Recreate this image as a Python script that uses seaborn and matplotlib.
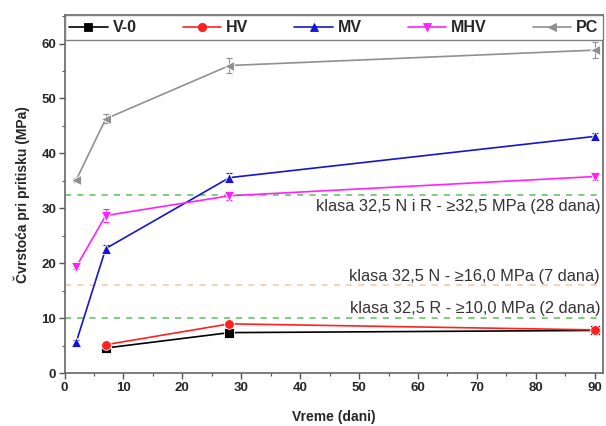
import matplotlib
matplotlib.use("Agg")
import matplotlib.pyplot as plt
import seaborn as sns
import pandas as pd
import numpy as np
from matplotlib.ticker import MultipleLocator
from matplotlib.lines import Line2D

sns.set_theme(style="ticks")
plt.rcParams['font.family'] = ['Liberation Sans', 'DejaVu Sans']

series = ["V-0", "HV", "MV", "MHV", "PC"]
days_v0 = [7, 28, 90]
vals_v0 = [4.6, 7.4, 7.8]
err_v0 = [0.3, 0.4, 0.4]
days_hv = [7, 28, 90]
vals_hv = [5.2, 9.0, 7.9]
err_hv = [0.4, 0.6, 0.5]
days_mv = [2, 7, 28, 90]
vals_mv = [5.7, 22.7, 35.6, 43.1]
err_mv = [0.3, 0.6, 0.8, 0.6]
days_mhv = [2, 7, 28, 90]
vals_mhv = [19.4, 28.7, 32.3, 35.8]
err_mhv = [0.5, 1.2, 0.8, 0.7]
days_pc = [2, 7, 28, 90]
vals_pc = [35.2, 46.3, 56.0, 58.8]
err_pc = [0.4, 0.8, 1.3, 1.5]

colors = ["#000000", "#ff2020", "#1515d0", "#ff20ff", "#909090"]
markers = ["s", "o", "^", "v", "<"]

limits = [32.5, 16.0, 10.0]
limit_colors = ["#5cbf5c", "#f7c6a0", "#5cbf5c"]
limit_labels = ["klasa 32,5 N i R - \u226532,5 MPa (28 dana)",
                "klasa 32,5 N - \u226516,0 MPa (7 dana)",
                "klasa 32,5 R - \u226510,0 MPa (2 dana)"]
label_y = [30.3, 17.6, 11.8]

days = [days_v0, days_hv, days_mv, days_mhv, days_pc]
vals = [vals_v0, vals_hv, vals_mv, vals_mhv, vals_pc]
errs = [err_v0, err_hv, err_mv, err_mhv, err_pc]

df = pd.concat([pd.DataFrame({"Vreme": d, "Cvrstoca": v, "Uzorak": s, "err": e})
                for s, d, v, e in zip(series, days, vals, errs)], ignore_index=True)

fig = plt.figure(figsize=(6.06, 4.26), dpi=100)
ax = fig.add_axes([64.5/606, 1 - 373.3/426, (603 - 64.5)/606, (373.3 - 15.5)/426])

for y, c in zip(limits, limit_colors):
    ax.axhline(y, color=c, linestyle=(0, (4, 4)), linewidth=1.1, zorder=1)

sns.lineplot(data=df, x="Vreme", y="Cvrstoca", hue="Uzorak", style="Uzorak",
             hue_order=series, style_order=series,
             palette=dict(zip(series, colors)), markers=dict(zip(series, markers)),
             dashes=False, markersize=7, linewidth=1.2, markeredgewidth=0.6,
             ax=ax, zorder=3, legend=False)

for s, c in zip(series, colors):
    sub = df[df["Uzorak"] == s]
    ax.errorbar(sub["Vreme"], sub["Cvrstoca"], yerr=sub["err"], fmt="none",
                ecolor=c, elinewidth=0.8, capsize=2.5, capthick=0.8, zorder=2)

for txt, yy in zip(limit_labels, label_y):
    ax.text(90.9, yy, txt, ha="right", va="center", fontsize=11.8, color="#333333")

handles = [Line2D([], [], color=c, marker=m, markersize=6, linewidth=1.2, markeredgewidth=0.6)
           for c, m in zip(colors, markers)]
leg = ax.legend(handles, series, loc="upper left", bbox_to_anchor=(0.0, 0.0, 1.0, 1.0), ncol=5,
                frameon=True, fancybox=False, edgecolor="#808080", framealpha=1,
                prop={"weight": "bold", "size": 11.5}, handlelength=2.4, columnspacing=2.0,
                handletextpad=0.3, borderpad=0.3, borderaxespad=0.0, mode="expand")
leg.get_frame().set_linewidth(1.0)

ax.set_xlim(0, 91.4)
ax.set_ylim(0, 65.1)
ax.xaxis.set_major_locator(MultipleLocator(10))
ax.xaxis.set_minor_locator(MultipleLocator(5))
ax.yaxis.set_major_locator(MultipleLocator(10))
ax.yaxis.set_minor_locator(MultipleLocator(5))
ax.tick_params(which="major", direction="out", length=4, width=1, labelsize=9.5, pad=2, color="#555555")
ax.tick_params(which="minor", direction="out", length=2.5, width=0.8, color="#555555")
for lab in ax.get_xticklabels() + ax.get_yticklabels():
    lab.set_fontweight("bold")
for sp in ax.spines.values():
    sp.set_visible(True)
    sp.set_color("#666666")
    sp.set_linewidth(1.2)

ax.set_xlabel("Vreme (dani)", fontsize=10, fontweight="bold", labelpad=12)
ax.set_ylabel("\u010cvrsto\u0107a pri pritisku (MPa)", fontsize=10, fontweight="bold", labelpad=8)

fig.savefig("out.png", dpi=100)
